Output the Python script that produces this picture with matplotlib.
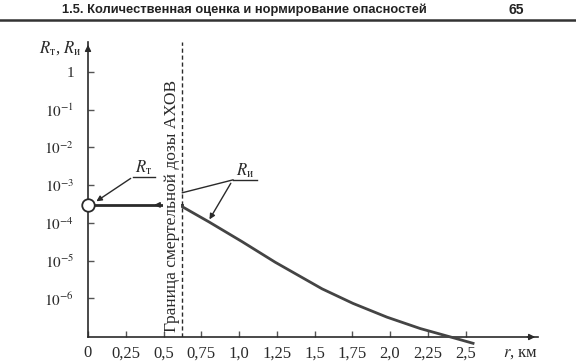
import matplotlib
matplotlib.use("Agg")
import matplotlib.pyplot as plt
from matplotlib.transforms import blended_transform_factory

# ---- data ----
r_boundary = 0.62            # km, граница смертельной дозы
rt_x = [0.0, 0.62]
rt_y = [3.0e-4, 3.0e-4]
ri_x = [0.62, 0.80, 1.02, 1.24, 1.55, 1.755, 1.98, 2.20, 2.42, 2.55]
ri_y = [2.75e-4, 1.07e-4, 3.2e-5, 9.1e-6, 1.8e-6, 7.4e-7, 3.2e-7, 1.6e-7, 9.1e-8, 6.5e-8]
yticks = [1e-6, 1e-5, 1e-4, 1e-3, 1e-2, 1e-1, 1]
ytick_labels = ["$10^{-6}$", "$10^{-5}$", "$10^{-4}$", "$10^{-3}$", "$10^{-2}$", "$10^{-1}$", "1"]
xticks = [0, 0.25, 0.5, 0.75, 1.0, 1.25, 1.5, 1.75, 2.0, 2.25, 2.5]
xtick_labels = ["0", "0,25", "0,5", "0,75", "1,0", "1,25", "1,5", "1,75", "2,0", "2,25", "2,5"]
header = "1.5. Количественная оценка и нормирование опасностей"
page = "65"
boundary_text = "Граница смертельной дозы АХОВ"

plt.rcParams['font.family'] = ['Liberation Serif', 'DejaVu Serif']
plt.rcParams['mathtext.fontset'] = 'stix'

ink = '#2a2a2a'
fig = plt.figure(figsize=(5.76, 3.61), dpi=100)
fig.patch.set_facecolor('white')
ax = fig.add_axes([88/576, 1-337/361, (538-88)/576, (337-42)/361])
ax.set_facecolor('none')
ax.set_yscale('log')
ax.set_xlim(0, 2.98)
ax.set_ylim(10**-7.02, 10**0.79)

for s in ['top', 'right']:
    ax.spines[s].set_visible(False)
for s in ['left', 'bottom']:
    ax.spines[s].set_color(ink)
    ax.spines[s].set_linewidth(1.2)

ax.set_yticks(yticks)
ax.set_yticklabels(ytick_labels)
ax.minorticks_off()
ax.set_xticks(xticks)
ax.set_xticklabels(xtick_labels)
ax.tick_params(axis='both', direction='in', length=4, width=1, color='#555555',
               labelsize=12, labelcolor=ink)
ax.tick_params(axis='y', pad=10, labelsize=11)
ax.tick_params(axis='x', pad=6)

# axis arrows
ax.annotate('', xy=(1.0, 0), xytext=(0.97, 0), xycoords='axes fraction',
            arrowprops=dict(arrowstyle='-|>', color=ink, lw=1.0, mutation_scale=9))
ax.annotate('', xy=(0, 1.0), xytext=(0, 0.96), xycoords='axes fraction',
            arrowprops=dict(arrowstyle='-|>', color=ink, lw=1.0, mutation_scale=9))

# axis labels
fig.text(60/576, 1-48/361, "$R_{\\mathrm{т}}$, $R_{\\mathrm{и}}$", ha='center', va='center',
         fontsize=12, color=ink)
fig.text(521/576, 1-353/361, "$r$, км", ha='center', va='center', fontsize=12, color=ink)

# boundary
ax.axvline(r_boundary, color=ink, lw=1.0, ls=(0, (3, 2)))
trans = blended_transform_factory(ax.transData, ax.transAxes)
ax.text(0.555, 0.445, boundary_text, rotation=90, ha='center', va='center',
        transform=trans, fontsize=12.5, color=ink,
        bbox=dict(facecolor='white', edgecolor='none', pad=0.5), zorder=4)

# series
ax.plot(rt_x, rt_y, color=ink, lw=2.0, zorder=3)
ax.plot(ri_x, ri_y, color='#444444', lw=2.0, zorder=3, clip_on=False)
ax.plot([rt_x[0]], [rt_y[0]], 'o', ms=9, mfc='white', mec=ink, mew=1.3,
        clip_on=False, zorder=6)

# small arrowhead on R_t line
ax.annotate('', xy=(0.42, 3.0e-4), xytext=(0.48, 3.0e-4),
            arrowprops=dict(arrowstyle='-|>', color=ink, lw=1.0, mutation_scale=8), zorder=5)

# R_t leader
ax.plot([0.298, 0.444], [1.66e-3, 1.66e-3], color=ink, lw=1.0)
ax.annotate('', xy=(0.04, 3.4e-4), xytext=(0.298, 1.66e-3),
            arrowprops=dict(arrowstyle='-|>', color=ink, lw=1.0, mutation_scale=8))
ax.text(0.37, 2.9e-3, "$R_{\\mathrm{т}}$", ha='center', va='center', fontsize=12, color=ink)

# R_i leaders
ax.plot([0.96, 1.12], [1.38e-3, 1.38e-3], color=ink, lw=1.0)
ax.plot([0.96, 0.625], [1.38e-3, 6.3e-4], color=ink, lw=1.0)
ax.annotate('', xy=(0.795, 1.07e-4), xytext=(0.955, 1.3e-3),
            arrowprops=dict(arrowstyle='-|>', color=ink, lw=1.0, mutation_scale=8))
ax.text(1.04, 2.4e-3, "$R_{\\mathrm{и}}$", ha='center', va='center', fontsize=12, color=ink)

# page header
hdr_font = ['Liberation Sans', 'DejaVu Sans']
fig.text(244/576, 1-10/361, header, ha='center', va='center', fontsize=9.3,
         fontweight='bold', family=hdr_font, color='#222222')
fig.text(516/576, 1-10/361, page, ha='center', va='center', fontsize=10,
         fontweight='bold', family=hdr_font, color='#222222')
fig.add_artist(plt.Line2D([0, 1], [1-20/361, 1-20/361], color='#333333', lw=1.8,
                          transform=fig.transFigure))

fig.savefig('out.png', dpi=100)
